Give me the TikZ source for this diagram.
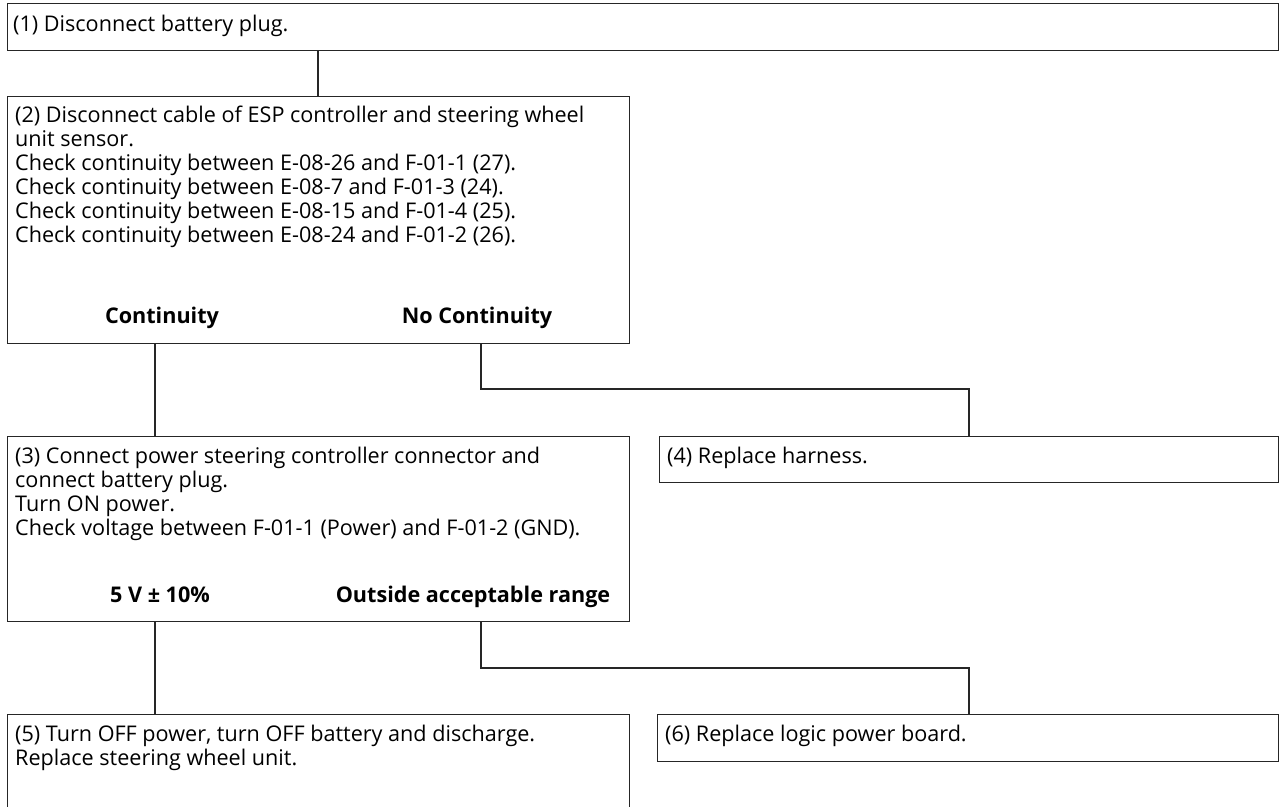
\documentclass[tikz,border=0pt]{standalone}
\usepackage{fontspec}
\setmainfont{Open Sans}
\begin{document}
\begin{tikzpicture}[x=1pt,y=-1pt,
  box/.style={draw=black!85, line width=1.3pt, rectangle, inner sep=0pt, anchor=north west},
  txt/.style={anchor=base west, inner sep=0pt, font=\fontsize{21.6}{24}\selectfont},
  lbl/.style={anchor=base, inner sep=0pt, font=\fontsize{21.6}{24}\selectfont\bfseries},
  link/.style={draw=black!85, line width=1.3pt}]
\useasboundingbox (0,0) rectangle (1279,806);

% boxes
\node[box, minimum width=1271pt, minimum height=47pt] (b1) at (7,3) {};
\node[box, minimum width=622pt, minimum height=247pt] (b2) at (7,96) {};
\node[box, minimum width=622pt, minimum height=185pt] (b3) at (7,436) {};
\node[box, minimum width=619pt, minimum height=46pt] (b4) at (659,436) {};
\node[box, minimum width=622pt, minimum height=120pt] (b5) at (7,714) {};
\node[box, minimum width=621pt, minimum height=47pt] (b6) at (657,714) {};

% texts
\node[txt] (t1) at (13,31) {(1) Disconnect battery plug.};
\node[txt] (t2a) at (15,122) {(2) Disconnect cable of ESP controller and steering wheel};
\node[txt] (t2b) at (15,146) {unit sensor.};
\node[txt] (t2c) at (15,170) {Check continuity between E-08-26 and F-01-1 (27).};
\node[txt] (t2d) at (15,194) {Check continuity between E-08-7 and F-01-3 (24).};
\node[txt] (t2e) at (15,218) {Check continuity between E-08-15 and F-01-4 (25).};
\node[txt] (t2f) at (15,242) {Check continuity between E-08-24 and F-01-2 (26).};
\node[lbl] (l2a) at (162,323) {Continuity};
\node[lbl] (l2b) at (477,323) {No Continuity};

\node[txt] (t3a) at (15,463) {(3) Connect power steering controller connector and};
\node[txt] (t3b) at (15,487) {connect battery plug.};
\node[txt] (t3c) at (15,511) {Turn ON power.};
\node[txt] (t3d) at (15,535) {Check voltage between F-01-1 (Power) and F-01-2 (GND).};
\node[lbl] (l3a) at (160,602) {5 V ± 10\%};
\node[lbl] (l3b) at (473,602) {Outside acceptable range};

\node[txt] (t4) at (667,463) {(4) Replace harness.};
\node[txt] (t5a) at (15,741) {(5) Turn OFF power, turn OFF battery and discharge.};
\node[txt] (t5b) at (15,765) {Replace steering wheel unit.};
\node[txt] (t6) at (665,741) {(6) Replace logic power board.};

% connector x positions
\coordinate (x1) at (318,0);
\coordinate (xc) at (155,0);
\coordinate (xn) at (481,0);
\coordinate (x4) at (969,0);
\coordinate (yj1) at (0,389);
\coordinate (yj2) at (0,668);

\draw[link] (b1.south -| x1) -- (b2.north -| x1);
\draw[link] (b2.south -| xc) -- (b3.north -| xc);
\draw[link] (b2.south -| xn) -- (xn |- yj1) -- (x4 |- yj1) -- (b4.north -| x4);
\draw[link] (b3.south -| xc) -- (b5.north -| xc);
\draw[link] (b3.south -| xn) -- (xn |- yj2) -- (x4 |- yj2) -- (b6.north -| x4);
\end{tikzpicture}
\end{document}
